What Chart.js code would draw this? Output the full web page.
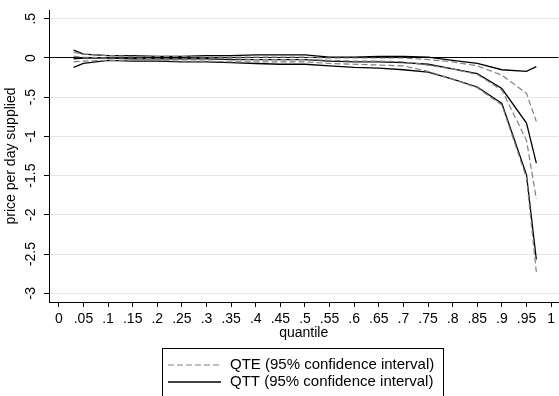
<!DOCTYPE html>
<html>
<head>
<meta charset="utf-8">
<script src="https://cdn.jsdelivr.net/npm/chart.js@4/dist/chart.umd.min.js"></script>
<style>
    body { margin: 0; background: #fff; }
    #wrap { width: 559px; height: 396px; }
</style>
</head>
<body>
<div id="wrap"><canvas id="graph" width="559" height="396"></canvas></div>
<script>
// quantiles estimated
const quantiles = [0.03, 0.05, 0.1, 0.15, 0.2, 0.25, 0.3, 0.35, 0.4, 0.45, 0.5, 0.55, 0.6, 0.65, 0.7, 0.75, 0.8, 0.85, 0.9, 0.95, 0.97];

// QTE (dashed) : borne sup, estimation, borne inf
const qteUpper = [0.07, 0.05, 0.03, 0.02, 0.02, 0.02, 0.01, 0.01, 0.01, 0.01, 0.01, 0.00, 0.00, 0.00, 0.00, -0.02, -0.05, -0.10, -0.22, -0.45, -0.81];
const qteEst = [0.02, 0.01, 0.00, 0.00, -0.01, -0.01, -0.01, -0.01, -0.02, -0.02, -0.02, -0.03, -0.04, -0.04, -0.05, -0.09, -0.14, -0.21, -0.41, -1.05, -1.80];
const qteLower = [-0.05, -0.04, -0.03, -0.03, -0.03, -0.04, -0.04, -0.05, -0.05, -0.05, -0.05, -0.07, -0.08, -0.09, -0.10, -0.17, -0.27, -0.38, -0.60, -1.53, -2.73];

// QTT (solid)
const qttUpper = [0.10, 0.05, 0.03, 0.03, 0.02, 0.02, 0.03, 0.03, 0.04, 0.04, 0.04, 0.01, 0.01, 0.02, 0.02, 0.01, -0.03, -0.07, -0.15, -0.17, -0.11];
const qttEst = [-0.01, 0.00, 0.00, -0.01, -0.01, -0.01, -0.01, -0.02, -0.02, -0.02, -0.02, -0.04, -0.05, -0.05, -0.06, -0.08, -0.14, -0.20, -0.39, -0.83, -1.34];
const qttLower = [-0.12, -0.07, -0.03, -0.04, -0.04, -0.05, -0.05, -0.06, -0.07, -0.08, -0.08, -0.10, -0.12, -0.13, -0.15, -0.18, -0.27, -0.37, -0.58, -1.49, -2.57];

const xTickValues = [0, 0.05, 0.1, 0.15, 0.2, 0.25, 0.3, 0.35, 0.4, 0.45, 0.5, 0.55, 0.6, 0.65, 0.7, 0.75, 0.8, 0.85, 0.9, 0.95, 1];
const xTickLabels = ['0', '.05', '.1', '.15', '.2', '.25', '.3', '.35', '.4', '.45', '.5', '.55', '.6', '.65', '.7', '.75', '.8', '.85', '.9', '.95', '1'];
const yTickValues = [0.5, 0, -0.5, -1, -1.5, -2, -2.5, -3];
const yTickLabels = ['.5', '0', '-.5', '-1', '-1.5', '-2', '-2.5', '-3'];

const legendLabels = ['QTE (95% confidence interval)', 'QTT (95% confidence interval)'];

const FONT = '"Liberation Sans", Arial, sans-serif';

function serie(values, dashed) {
    return {
        data: quantiles.map((q, i) => ({ x: q, y: values[i] })),
        borderColor: dashed ? '#808080' : '#000000',
        borderDash: dashed ? [6, 3] : [],
        borderWidth: dashed ? 1.2 : 1.3,
        pointRadius: 0,
        tension: 0,
        fill: false
    };
}

// legende encadree facon Stata
const legendeBox = {
    id: 'legendeBox',
    afterDraw(chart) {
        const c = chart.ctx;
        c.save();
        c.strokeStyle = '#000';
        c.lineWidth = 1;
        c.strokeRect(162.5, 348.5, 281, 60);
        c.font = '15px ' + FONT;
        c.textBaseline = 'middle';
        c.fillStyle = '#000';
        const rows = [365, 382];
        for (let i = 0; i < legendLabels.length; i++) {
            c.beginPath();
            c.strokeStyle = i === 0 ? '#808080' : '#000';
            c.lineWidth = i === 0 ? 1.2 : 1.3;
            c.setLineDash(i === 0 ? [6, 3] : []);
            c.moveTo(168, rows[i]);
            c.lineTo(221, rows[i]);
            c.stroke();
            c.setLineDash([]);
            c.fillText(legendLabels[i], 230, rows[i]);
        }
        c.restore();
    }
};

new Chart(document.getElementById('graph'), {
    type: 'line',
    data: {
        datasets: [
            serie(qteUpper, true), serie(qteEst, true), serie(qteLower, true),
            serie(qttUpper, false), serie(qttEst, false), serie(qttLower, false)
        ]
    },
    options: {
        responsive: false,
        animation: false,
        layout: { padding: { top: 10, right: 0, bottom: 51, left: 0 } },
        plugins: {
            legend: { display: false },
            tooltip: { enabled: false }
        },
        scales: {
            x: {
                type: 'linear',
                min: -0.02,
                max: 1.015,
                afterBuildTicks: scale => { scale.ticks = xTickValues.map(v => ({ value: v })); },
                afterFit: scale => { scale.height = 43; },
                ticks: {
                    autoSkip: false,
                    maxRotation: 0,
                    padding: 4,
                    color: '#000',
                    font: { family: FONT, size: 14 },
                    callback: (v) => xTickLabels[xTickValues.indexOf(v)]
                },
                grid: { drawOnChartArea: false, tickLength: 5, tickColor: '#000' },
                border: { color: '#000', width: 1 },
                title: {
                    display: true,
                    text: 'quantile',
                    color: '#000',
                    font: { family: FONT, size: 14 },
                    padding: { top: 0, bottom: 3 }
                }
            },
            y: {
                type: 'linear',
                min: -3.112,
                max: 0.612,
                afterBuildTicks: scale => { scale.ticks = yTickValues.map(v => ({ value: v })); },
                afterFit: scale => { scale.width = 49; },
                ticks: {
                    autoSkip: false,
                    minRotation: 90,
                    maxRotation: 90,
                    crossAlign: 'center',
                    padding: 1,
                    color: '#000',
                    font: { family: FONT, size: 14 },
                    callback: (v) => yTickLabels[yTickValues.indexOf(v)]
                },
                grid: {
                    color: ctx => (ctx.tick && ctx.tick.value === 0) ? '#000' : '#e6e6e6',
                    lineWidth: 1,
                    tickLength: 5,
                    tickColor: '#000'
                },
                border: { color: '#000', width: 1 },
                title: {
                    display: true,
                    text: 'price per day supplied',
                    color: '#000',
                    font: { family: FONT, size: 14 },
                    padding: { top: 3, bottom: 0 }
                }
            }
        }
    },
    plugins: [legendeBox]
});
</script>
</body>
</html>
